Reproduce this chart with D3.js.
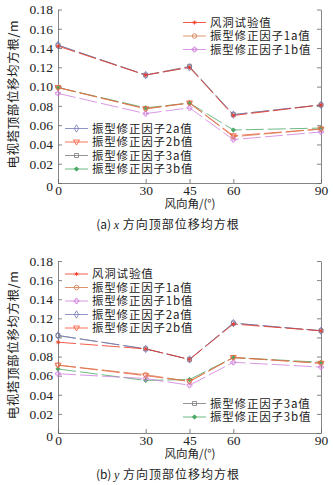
<!DOCTYPE html>
<html>
<head>
<meta charset="utf-8">
<script src="https://cdn.jsdelivr.net/npm/d3@7"></script>
<style>
  body { margin: 0; background: #fff; }
  svg { display: block; }
</style>
</head>
<body>
<svg id="svg" width="333" height="485"></svg>
<script>
//Data
const ANGLES = [0, 30, 45, 60, 90];
const Y_TICKS = [0, 0.02, 0.04, 0.06, 0.08, 0.10, 0.12, 0.14, 0.16, 0.18];
const SERIES_NAMES = ["风洞试验值", "振型修正因子1a值", "振型修正因子1b值", "振型修正因子2a值", "振型修正因子2b值", "振型修正因子3a值", "振型修正因子3b值"];

//x direction
const X_WIND = [0.142, 0.112, 0.120, 0.070, 0.081];
const X_1A = [0.099, 0.077, 0.083, 0.048, 0.056];
const X_1B = [0.093, 0.072, 0.078, 0.045, 0.053];
const X_2A = [0.143, 0.112, 0.120, 0.071, 0.081];
const X_2B = [0.099, 0.077, 0.083, 0.049, 0.056];
const X_3A = [0.143, 0.112, 0.121, 0.071, 0.081];
const X_3B = [0.099, 0.078, 0.083, 0.055, 0.057];

//y direction
const Y_WIND = [0.095, 0.088, 0.077, 0.114, 0.107];
const Y_1A = [0.071, 0.061, 0.054, 0.079, 0.073];
const Y_1B = [0.062, 0.057, 0.050, 0.074, 0.069];
const Y_2A = [0.102, 0.088, 0.077, 0.115, 0.107];
const Y_2B = [0.071, 0.060, 0.054, 0.079, 0.073];
const Y_3A = [0.102, 0.088, 0.077, 0.115, 0.107];
const Y_3B = [0.067, 0.055, 0.056, 0.079, 0.074];

const COLORS = ["#f0321e", "#d4784a", "#cf7ddc", "#7479b8", "#f5502e", "#7a7a7a", "#4aa864"];
const SYMBOLS = ["star", "circle", "plus", "diamond", "tri", "square", "dot"];

const SERIF = "'Liberation Serif', 'DejaVu Serif', serif";
const CJK = "'Noto Sans CJK SC', sans-serif";

const SVG = d3.select("#svg");

function markerPath(type)
{
    if (type === "star") return d3.symbol(d3.symbolAsterisk, 12)();
    if (type === "circle") return d3.symbol(d3.symbolCircle, 16)();
    if (type === "plus") return d3.symbol(d3.symbolCross, 14)();
    if (type === "diamond") return d3.symbol(d3.symbolDiamond, 16)();
    if (type === "tri") return "M-3,-2L3,-2L0,3Z";
    if (type === "square") return d3.symbol(d3.symbolSquare, 16)();
    return d3.symbol(d3.symbolDiamond2, 12)();
}

function drawMarker(g, type, color, x, y)
{
    let filled = (type === "star" || type === "dot");
    g.append("path")
        .attr("d", markerPath(type))
        .attr("transform", "translate(" + x + "," + y + ")")
        .attr("fill", filled ? color : "none")
        .attr("stroke", color)
        .attr("stroke-width", 0.8);
}

function buildChart(series, top, bottom, legendRows, caption, captionVar)
{
    let x_scale = d3.scaleLinear().domain([0, 90]).range([58, 321]);
    let y_scale = d3.scaleLinear().domain([0, 0.18]).range([bottom, top]);
    let g = SVG.append("g");

    //Axes
    let x_axis = d3.axisBottom(x_scale).tickValues(ANGLES).tickSizeInner(-4).tickSizeOuter(0).tickPadding(2.5);
    let y_axis = d3.axisLeft(y_scale).tickValues(Y_TICKS).tickSizeInner(-4).tickSizeOuter(0).tickPadding(5)
        .tickFormat(d => d === 0 ? "0" : d.toFixed(2));
    let y_right = d3.axisRight(y_scale).tickValues(Y_TICKS).tickSizeInner(-4).tickSizeOuter(0).tickFormat("");

    let gx = g.append("g").attr("transform", "translate(0," + bottom + ")").call(x_axis);
    let gy = g.append("g").attr("transform", "translate(58,0)").call(y_axis);
    let gr = g.append("g").attr("transform", "translate(321,0)").call(y_right);
    [gx, gy, gr].forEach(a => {
        a.selectAll("path,line").attr("stroke", "#666").attr("stroke-width", 0.8);
        a.selectAll("text").attr("font-family", SERIF).attr("font-size", 13.5).attr("fill", "#222");
    });
    gy.selectAll("text").filter(d => d === 0).attr("dy", "0.55em");

    //Axis labels
    g.append("text")
        .attr("x", 190).attr("y", bottom + 24.5)
        .attr("text-anchor", "middle")
        .attr("font-family", CJK).attr("font-size", 11.5).attr("fill", "#222")
        .text("风向角/(°)");
    g.append("text")
        .attr("transform", "translate(18," + ((top + bottom) / 2 - 2) + ") rotate(-90)")
        .attr("text-anchor", "middle")
        .attr("font-family", CJK).attr("font-size", 12.5).attr("letter-spacing", 0.6).attr("fill", "#222")
        .text("电视塔顶部位移均方根/m");

    //Caption
    let cap = g.append("text")
        .attr("x", 168).attr("y", bottom + 46)
        .attr("text-anchor", "middle")
        .attr("font-family", CJK).attr("font-size", 12).attr("fill", "#222");
    cap.append("tspan").text("(" + caption + ") ");
    cap.append("tspan").attr("font-family", SERIF).attr("font-style", "italic").text(captionVar);
    cap.append("tspan").attr("letter-spacing", 1).text(" 方向顶部位移均方根");

    //Lines
    let line = d3.line().x((d, i) => x_scale(ANGLES[i])).y(d => y_scale(d));
    let order = [6, 5, 4, 3, 2, 1, 0];
    order.forEach(k => {
        g.append("path")
            .attr("d", line(series[k]))
            .attr("fill", "none")
            .attr("stroke", COLORS[k])
            .attr("stroke-width", 0.8)
            .attr("stroke-dasharray", "18,4");
    });
    order.forEach(k => {
        series[k].forEach((v, i) => drawMarker(g, SYMBOLS[k], COLORS[k], x_scale(ANGLES[i]), y_scale(v)));
    });

    //Legend
    legendRows.forEach(row => {
        let k = row.k;
        g.append("line")
            .attr("x1", row.x).attr("x2", row.x + 23)
            .attr("y1", row.y).attr("y2", row.y)
            .attr("stroke", COLORS[k]).attr("stroke-width", 0.8);
        drawMarker(g, SYMBOLS[k], COLORS[k], row.x + 11.5, row.y);
        g.append("text")
            .attr("x", row.x + 27).attr("y", row.y + 4.2)
            .attr("font-family", CJK).attr("font-size", 11.5).attr("letter-spacing", 0.8).attr("fill", "#222")
            .text(SERIES_NAMES[k]);
    });
}

buildChart([X_WIND, X_1A, X_1B, X_2A, X_2B, X_3A, X_3B], 9.5, 183,
    [
        { k: 0, x: 183, y: 22.5 },
        { k: 1, x: 183, y: 36 },
        { k: 2, x: 183, y: 49.5 },
        { k: 3, x: 65, y: 128.5 },
        { k: 4, x: 65, y: 142 },
        { k: 5, x: 65, y: 155.5 },
        { k: 6, x: 65, y: 169 }
    ], "a", "x");

buildChart([Y_WIND, Y_1A, Y_1B, Y_2A, Y_2B, Y_3A, Y_3B], 261, 433,
    [
        { k: 0, x: 65, y: 274 },
        { k: 1, x: 65, y: 287.5 },
        { k: 2, x: 65, y: 301 },
        { k: 3, x: 65, y: 314.5 },
        { k: 4, x: 65, y: 328 },
        { k: 5, x: 183, y: 403.5 },
        { k: 6, x: 183, y: 417 }
    ], "b", "y");
</script>
</body>
</html>
